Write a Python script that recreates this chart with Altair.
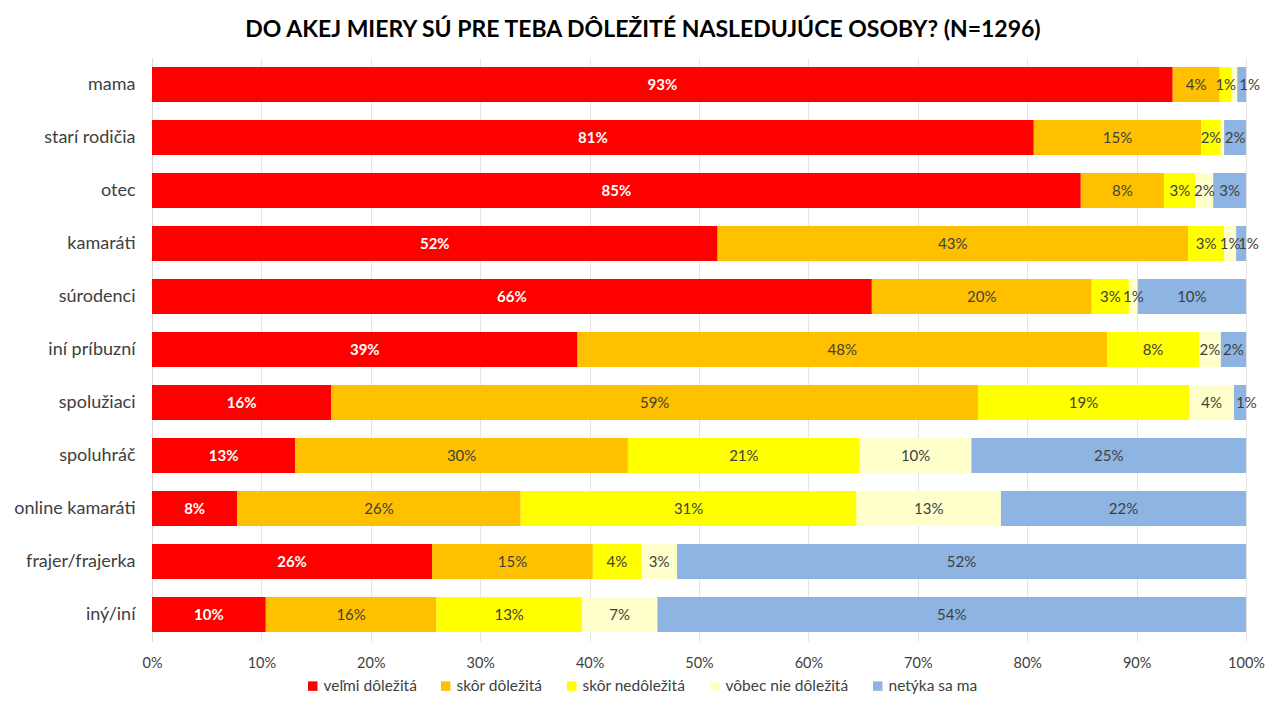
import altair as alt
import pandas as pd

cats = ["mama", "starí rodičia", "otec", "kamaráti", "súrodenci", "iní príbuzní",
        "spolužiaci", "spoluhráč", "online kamaráti", "frajer/frajerka", "iný/iní"]
series = ["veľmi dôležitá", "skôr dôležitá", "skôr nedôležitá", "vôbec nie dôležitá", "netýka sa ma"]
colors = ["#FF0000", "#FFC000", "#FFFF00", "#FFFFCC", "#8DB4E2"]

velmi = [93.3, 80.6, 84.9, 51.7, 65.8, 38.9, 16.4, 13.1, 7.8, 25.6, 10.4]
skor_dol = [4.3, 15.3, 7.6, 43.0, 20.1, 48.4, 59.1, 30.4, 25.9, 14.7, 15.6]
skor_nedol = [1.1, 1.8, 2.9, 3.3, 3.4, 8.4, 19.3, 21.2, 30.7, 4.4, 13.3]
vobec = [0.5, 0.3, 1.6, 1.1, 0.8, 2.0, 4.1, 10.2, 13.2, 3.3, 6.9]
netyka = [0.8, 2.0, 3.0, 0.9, 9.9, 2.3, 1.1, 25.1, 22.4, 52.0, 53.8]
vals = [velmi, skor_dol, skor_nedol, vobec, netyka]

x_ticks = [0, 0.1, 0.2, 0.3, 0.4, 0.5, 0.6, 0.7, 0.8, 0.9, 1.0]

rows = []
for i, c in enumerate(cats):
    for j, s in enumerate(series):
        rows.append({"cat": c, "ser": s, "order": j, "value": vals[j][i]})
df = pd.DataFrame(rows)

FONT = "Lato"

base = alt.Chart(df).transform_stack(
    stack="value", groupby=["cat"], sort=[alt.SortField("order", order="ascending")],
    as_=["x0", "x1"], offset="normalize"
).transform_calculate(
    mid="(datum.x0 + datum.x1) / 2",
    label="datum.value >= 0.7 ? round(datum.value) + '%' : ''"
)

y = alt.Y("cat:N", sort=cats, title=None,
          scale=alt.Scale(paddingInner=0.34, paddingOuter=0.17),
          axis=alt.Axis(labelFont=FONT, labelFontSize=18, labelColor="#404040",
                        ticks=False, labelPadding=17, domainColor="#d9d9d9"))

bars = base.mark_bar().encode(
    x=alt.X("x0:Q", scale=alt.Scale(domain=[0, 1]), title=None,
            axis=alt.Axis(format=".0%", values=x_ticks, grid=True, gridColor="#e4e4e4",
                          domain=False, ticks=False, labelFont=FONT, labelFontSize=14.5,
                          labelColor="#404040", labelPadding=15, labelFlush=False)),
    x2="x1:Q",
    y=y,
    color=alt.Color("ser:N", scale=alt.Scale(domain=series, range=colors),
                    legend=alt.Legend(title=None, orient="none", direction="horizontal",
                                      legendX=153, legendY=620, symbolType="square",
                                      symbolSize=90, symbolStrokeWidth=0, labelOffset=3,
                                      labelFont=FONT, labelFontSize=15.5, labelColor="#404040",
                                      columnPadding=21)),
)

txt_white = base.transform_filter("datum.order == 0").mark_text(
    color="white", fontWeight="bold", fontSize=15, font=FONT
).encode(x="mid:Q", y=y, text="label:N")

txt_dark = base.transform_filter("datum.order > 0 && !(datum.order == 4 && datum.value < 1.5)").mark_text(
    color="#404040", fontSize=15, font=FONT
).encode(x="mid:Q", y=y, text="label:N")

txt_tail = base.transform_filter("datum.order == 4 && datum.value < 1.5").mark_text(
    color="#404040", fontSize=15, font=FONT, align="left", dx=2
).encode(x="x0:Q", y=y, text="label:N")

chart = alt.layer(bars, txt_white, txt_dark, txt_tail).properties(
    width=1094, height=583,
    title=alt.TitleParams("DO AKEJ MIERY SÚ PRE TEBA DÔLEŽITÉ NASLEDUJÚCE OSOBY? (N=1296)",
                          font=FONT, fontSize=23, fontWeight="bold", color="#000000",
                          anchor="middle", dx=-56, offset=16),
    autosize=alt.AutoSizeParams(type="none"),
    padding={"left": 144, "top": 50, "right": 19, "bottom": 54},
).configure_view(stroke=None)

chart.save("out.html", embed_options={"renderer": "svg", "actions": False})
